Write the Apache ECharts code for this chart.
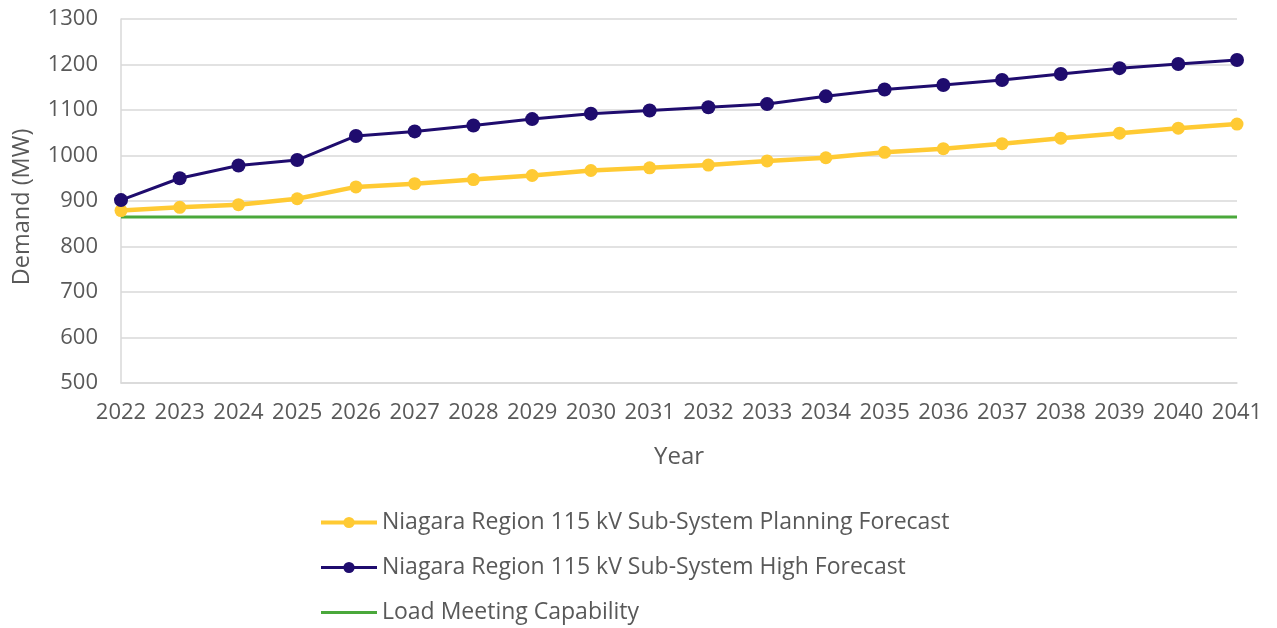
<!DOCTYPE html>
<html>
<head>
<meta charset="utf-8">
<script src="https://cdn.jsdelivr.net/npm/echarts@6/dist/echarts.min.js"></script>
<style>
  html, body { margin: 0; padding: 0; background: #fff; }
  #chart { width: 1277px; height: 628px; }
</style>
</head>
<body>
<div id="chart"></div>
<script>
// Years on the horizontal axis
const years = ['2022','2023','2024','2025','2026','2027','2028','2029','2030','2031',
               '2032','2033','2034','2035','2036','2037','2038','2039','2040','2041'];

// Demand forecasts (MW)
const planningForecast = [879, 886, 892, 905, 931, 938, 947, 956, 967, 973,
                          979, 988, 995, 1007, 1015, 1026, 1038, 1049, 1060, 1069];
const highForecast = [902, 950, 978, 990, 1043, 1053, 1066, 1080, 1092, 1099,
                      1106, 1113, 1130, 1145, 1155, 1166, 1179, 1192, 1201, 1210];

// Load meeting capability (MW), constant over the period
const loadCapability = years.map(() => 865);

// Y axis range
const yMin = 500, yMax = 1300, yStep = 100;

const FONT = 'Open Sans';
const TXT = '#595959';
const YELLOW = '#ffca33', NAVY = '#1f0c6e', GREEN = '#4aa83b';

// Plain horizontal bar used as the legend marker of the capability line
const LINE_ICON = 'path://M0,0M0,14M0,5.5H56V8.5H0Z';

const chart = echarts.init(document.getElementById('chart'));
chart.setOption({
  animation: false,
  textStyle: { fontFamily: FONT },
  grid: { left: 121, right: 40, top: 19, bottom: 245, containLabel: false },
  legend: {
    orient: 'vertical',
    left: 319,
    top: 511,
    height: 117,
    padding: 0,
    itemGap: 22,
    itemWidth: 56,
    itemHeight: 14,
    textStyle: { fontFamily: FONT, fontSize: 23, color: TXT },
    data: [
      { name: 'Niagara Region 115 kV Sub-System Planning Forecast', lineStyle: { width: 4 } },
      { name: 'Niagara Region 115 kV Sub-System High Forecast', lineStyle: { width: 3 } },
      { name: 'Load Meeting Capability', icon: LINE_ICON }
    ]
  },
  xAxis: {
    type: 'category',
    data: years,
    boundaryGap: false,
    name: 'Year',
    nameLocation: 'middle',
    nameGap: 62,
    nameTextStyle: { fontFamily: FONT, fontSize: 24, color: TXT },
    axisLine: { lineStyle: { color: '#d9d9d9', width: 1.5 } },
    axisTick: { show: false },
    axisLabel: { color: TXT, fontSize: 22, margin: 19, interval: 0, fontFamily: FONT },
    splitLine: { show: false }
  },
  yAxis: {
    type: 'value',
    min: yMin,
    max: yMax,
    interval: yStep,
    name: 'Demand (MW)',
    nameLocation: 'middle',
    nameGap: 87,
    nameTextStyle: { fontFamily: FONT, fontSize: 23.5, color: TXT, padding: [0, 12, 0, 0] },
    axisLine: { show: true, lineStyle: { color: '#d9d9d9', width: 1.5 } },
    axisTick: { show: false },
    axisLabel: { color: TXT, fontSize: 22, margin: 23, fontFamily: FONT, formatter: v => String(v) },
    splitLine: { lineStyle: { color: '#d9d9d9', width: 1.5 } }
  },
  series: [
    {
      name: 'Niagara Region 115 kV Sub-System Planning Forecast',
      type: 'line',
      data: planningForecast,
      symbol: 'circle',
      symbolSize: 13,
      itemStyle: { color: YELLOW },
      lineStyle: { color: YELLOW, width: 4.5 },
      z: 3
    },
    {
      name: 'Niagara Region 115 kV Sub-System High Forecast',
      type: 'line',
      data: highForecast,
      symbol: 'circle',
      symbolSize: 14,
      itemStyle: { color: NAVY },
      lineStyle: { color: NAVY, width: 3 },
      z: 4
    },
    {
      name: 'Load Meeting Capability',
      type: 'line',
      data: loadCapability,
      symbol: 'none',
      itemStyle: { color: GREEN },
      lineStyle: { color: GREEN, width: 3 },
      z: 2
    }
  ]
});
</script>
</body>
</html>
